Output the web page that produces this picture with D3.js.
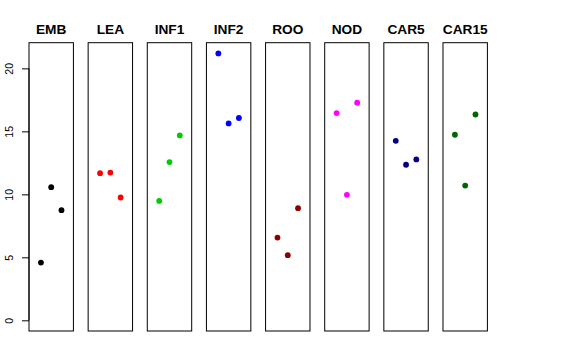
<!DOCTYPE html>
<html><head><meta charset="utf-8">
<script src="https://cdn.jsdelivr.net/npm/d3@7"></script>
<style>body{margin:0;background:#fff}svg{display:block}</style>
</head><body>
<script>
const categories = ["EMB","LEA","INF1","INF2","ROO","NOD","CAR5","CAR15"];
const colors = ["#000000","#FF0000","#00CD00","#0000FF","#8B0000","#FF00FF","#00008B","#006400"];
const replicate = [1,2,3];
const values = [
  [4.58,10.57,8.74],
  [11.68,11.73,9.75],
  [9.48,12.56,14.68],
  [21.19,15.63,16.06],
  [6.57,5.17,8.90],
  [16.45,9.96,17.27],
  [14.25,12.35,12.77],
  [14.73,10.70,16.34]
];
const yTicks = [0,5,10,15,20];

const W=576,H=360;
const svg=d3.select("body").append("svg").attr("width",W).attr("height",H);

const xBand=d3.scaleBand().domain(categories).range([29,487.4]).paddingInner(0.249).paddingOuter(0);
const ymax=d3.max(values.flat()), ypad=(ymax-0)*0.04;
const y=d3.scaleLinear().domain([0-ypad,ymax+ypad]).range([331,42.7]);
const xIn=d3.scaleLinear().domain([-0.16,4.16]).range([0,xBand.bandwidth()]);

// y axis
const ax=svg.append("g").attr("transform",`translate(${xBand(categories[0])},0)`)
  .call(d3.axisLeft(y).tickValues(yTicks).tickSize(7).tickPadding(6).tickFormat(d3.format("d")));
ax.select(".domain").remove();
ax.selectAll(".tick line").attr("stroke","#000");
ax.selectAll(".tick text").attr("font-family","Liberation Sans, Arial, sans-serif").attr("font-size",10.5)
  .attr("fill","#000").attr("text-anchor","middle").attr("dy",null)
  .attr("transform","translate(-9,0) rotate(-90)").attr("x",0).attr("y",0).attr("dy","0.35em");
ax.selectAll(".tick text").attr("transform","translate(-16.5,0) rotate(-90)").attr("dy","0em");
ax.append("line").attr("x1",0).attr("x2",0).attr("y1",y(0)).attr("y2",y(20)).attr("stroke","#000");

categories.forEach((c,i)=>{
  const g=svg.append("g").attr("transform",`translate(${xBand(c)},0)`);
  g.append("rect").attr("x",0).attr("y",y.range()[1]).attr("width",xBand.bandwidth())
    .attr("height",y.range()[0]-y.range()[1]).attr("fill","none").attr("stroke","#000").attr("stroke-width",1);
  g.append("text").attr("x",xBand.bandwidth()/2).attr("y",34).attr("text-anchor","middle")
    .attr("font-family","Liberation Sans, Arial, sans-serif").attr("font-weight","bold").attr("font-size",13.7).text(c);
  g.selectAll("circle").data(values[i]).join("circle")
    .attr("cx",(d,j)=>xIn(replicate[j])).attr("cy",d=>y(d)).attr("r",2.9).attr("fill",colors[i]);
});
</script>
</body></html>
